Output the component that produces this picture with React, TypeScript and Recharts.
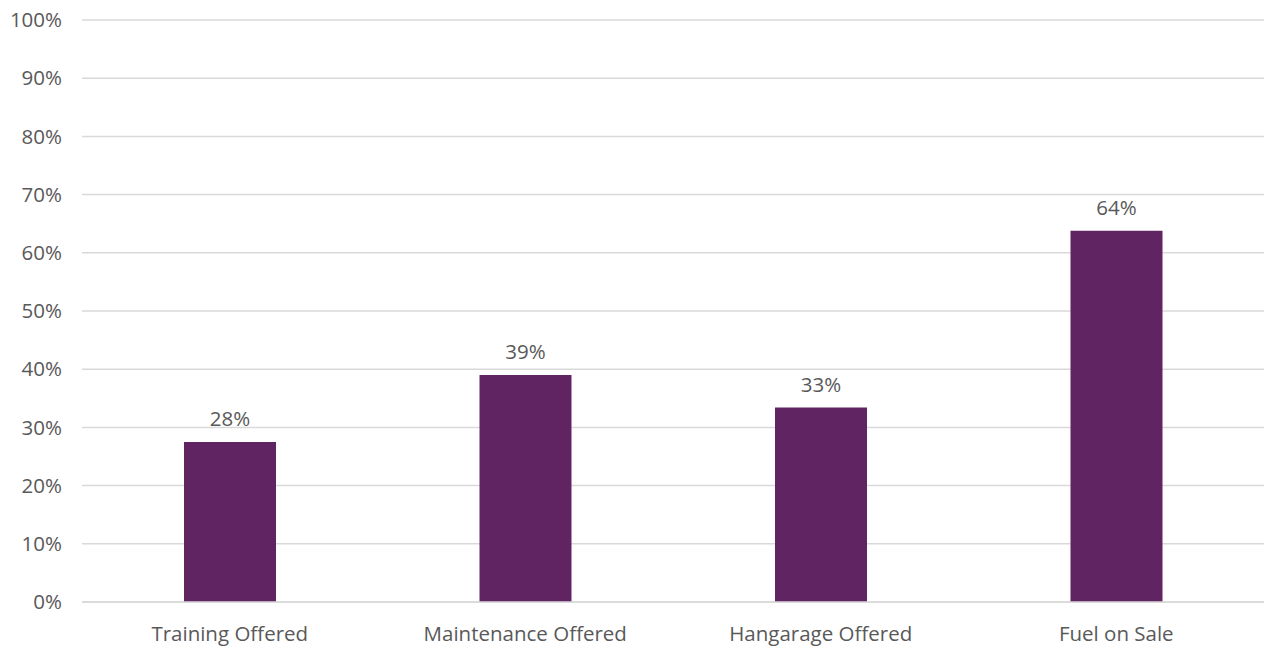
import { BarChart, Bar, XAxis, YAxis, CartesianGrid, LabelList } from "recharts";

const categories = ["Training Offered", "Maintenance Offered", "Hangarage Offered", "Fuel on Sale"];
const shares = [0.275, 0.39, 0.334, 0.638];
const yTicks = [0, 0.1, 0.2, 0.3, 0.4, 0.5, 0.6, 0.7, 0.8, 0.9, 1];

const rows = categories.map((name, i) => ({ name, value: shares[i] }));

const pct = (v: number) => `${Math.round(v * 100)}%`;
const font = "'Open Sans', sans-serif";

export default function App() {
  return (
    <div style={{ position: "absolute", left: 0, top: 0, background: "#fff" }}>
      <BarChart width={1264} height={649} data={rows} margin={{ top: 20, right: 0, left: 0, bottom: 0 }}>
        <CartesianGrid stroke="#d9d9d9" strokeWidth={1.5} vertical={false} />
        <XAxis
          dataKey="name"
          height={47}
          tickLine={false}
          axisLine={{ stroke: "#d9d9d9", strokeWidth: 1.5 }}
          tickSize={0}
          tickMargin={24}
          tick={{ fill: "#595959", fontSize: 20.5, fontFamily: font }}
        />
        <YAxis
          width={82}
          domain={[0, 1]}
          ticks={yTicks}
          tickFormatter={pct}
          axisLine={false}
          tickLine={false}
          tickSize={0}
          tickMargin={20}
          tick={{ fill: "#595959", fontSize: 20.5, fontFamily: font }}
        />
        <Bar dataKey="value" fill="#612463" barSize={92} isAnimationActive={false}>
          <LabelList
            dataKey="value"
            position="top"
            offset={16}
            formatter={(v: number) => pct(v)}
            style={{ fill: "#595959", fontSize: 20.5, fontFamily: font }}
          />
        </Bar>
      </BarChart>
    </div>
  );
}
